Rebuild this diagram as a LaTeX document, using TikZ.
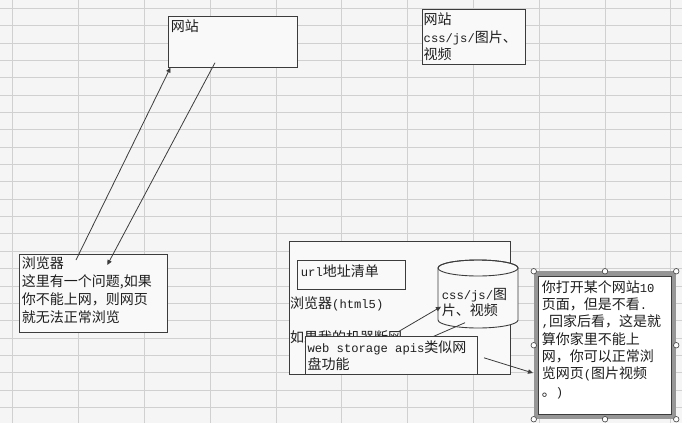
\documentclass[tikz,border=0pt]{standalone}
\usepackage{fontspec}
\setmainfont{Noto Sans CJK SC}
\newfontfamily\lm[Scale=0.87]{Liberation Mono}
\usetikzlibrary{arrows.meta}
\definecolor{bgc}{RGB}{245,245,245}
\definecolor{gridc}{RGB}{208,208,208}
\definecolor{boxfill}{RGB}{249,249,249}
\definecolor{linec}{RGB}{60,60,60}
\definecolor{txtc}{RGB}{30,30,30}
\definecolor{selc}{RGB}{150,150,150}
\begin{document}
\begin{tikzpicture}[x=1pt,y=-1pt,
  box/.style={draw=linec, line width=0.9pt, fill=boxfill, inner sep=0pt},
  txt/.style={inner sep=0pt, anchor=north west, align=left, text=txtc,
    font=\fontsize{14pt}{17.4pt}\selectfont},
  arr/.style={draw=linec, line width=0.8pt, -{Triangle[length=5pt,width=4.5pt]}},
  ln/.style={draw=linec, line width=0.8pt},
  gridline/.style={draw=gridc, line width=0.8pt},
  handle/.style={circle, draw=linec, fill=white, line width=0.6pt, inner sep=0pt, minimum size=5.5pt}
]
\useasboundingbox[fill=bgc] (0,0) rectangle (682,423);
% spreadsheet grid
\foreach \k in {0,...,10} \draw[gridline] ({12.7+65.8*\k},0) -- ({12.7+65.8*\k},423);
\foreach \k in {0,...,23} \draw[gridline] (0,{8.3+17.35*\k}) -- (682,{8.3+17.35*\k});

% top boxes
\node[box, minimum width=129pt, minimum height=50.6pt] (site) at (232.8,42) {};
\node[txt] (sitet) at (170.7,19.7) {网站};
\node[box, minimum width=103pt, minimum height=55pt] (site2) at (473.8,36.8) {};
\node[txt] (site2t) at (423.5,13) {网站\\{\lm css/js/}图片、\\视频};

% left browser box
\node[box, minimum width=148.4pt, minimum height=78.4pt] (browser) at (93.5,293.5) {};
\node[txt, font=\fontsize{14pt}{18pt}\selectfont] (browsert) at (21.7,256.3)
  {浏览器\\这里有一个问题,如果\\你不能上网，则网页\\就无法正常浏览};

% big html5 browser box
\node[box, minimum width=221.7pt, minimum height=133.3pt] (big) at (399.85,307.65) {};
\node[box, minimum width=107.3pt, minimum height=29pt] (url) at (351.35,274.5) {};
\node[txt] (urlt) at (300.7,264.7) {{\lm url}地址清单};
\node[txt] (html5t) at (290,296.3) {浏览器{\lm (html5)}};
\node[txt] (offt) at (290,330) {如果我的机器断网};

% cylinder
\filldraw[draw=linec, fill=boxfill, line width=0.9pt]
  (438,268) -- (438,320) arc[start angle=180, end angle=360, x radius=40pt, y radius=8pt]
  -- (518,268) arc[start angle=0, end angle=180, x radius=40pt, y radius=8pt] -- cycle;
\draw[draw=linec, line width=0.9pt] (478,268) ellipse[x radius=40pt, y radius=8pt];
\node[txt, font=\fontsize{14pt}{16.5pt}\selectfont] (cylt) at (441.7,288) {{\lm css/js/}图\\片、视频};

% web storage box
\node[box, minimum width=171.6pt, minimum height=37.6pt] (ws) at (391.5,355.5) {};
\node[txt, font=\fontsize{14pt}{17.7pt}\selectfont] (wst) at (307.3,340.3)
  {{\lm web storage apis}类似网\\盘功能};

% right note (selected)
\node[draw=selc, line width=4.5pt, minimum width=138pt, minimum height=143.5pt, inner sep=0pt] (notesel) at (605,345.25) {};
\node[box, fill=white, line width=0.7pt, minimum width=133pt, minimum height=138.5pt] (note) at (605,345.25) {};
\node[txt, font=\fontsize{14pt}{17.3pt}\selectfont] (notet) at (541.7,280.3)
  {你打开某个网站{\lm 10}\\页面，但是不看{\lm .}\\{\lm ,}回家后看，这是就\\算你家里不能上\\网，你可以正常浏\\览网页{\lm (}图片视频\\。{\lm )}};
\foreach \a in {north west,north,north east,west,east,south west,south,south east}
  \node[handle] at (notesel.\a) {};

% connectors
\coordinate (a1s) at (76,260);
\coordinate (a1e) at (170.5,67.5);
\coordinate (a2s) at (215,62.7);
\coordinate (a2e) at (107.3,265);
\coordinate (a3s) at (398.3,331.7);
\coordinate (a3e) at (441,306.7);
\coordinate (l4s) at (433.3,336.5);
\coordinate (l4e) at (465,322.7);
\coordinate (a5s) at (484,357.8);
\coordinate (a5e) at (533,373);
\draw[arr] (a1s) -- (a1e);
\draw[arr] (a2s) -- (a2e);
\draw[arr] (a3s) -- (a3e);
\draw[ln] (l4s) -- (l4e);
\draw[arr] (a5s) -- (a5e);
\end{tikzpicture}
\end{document}
